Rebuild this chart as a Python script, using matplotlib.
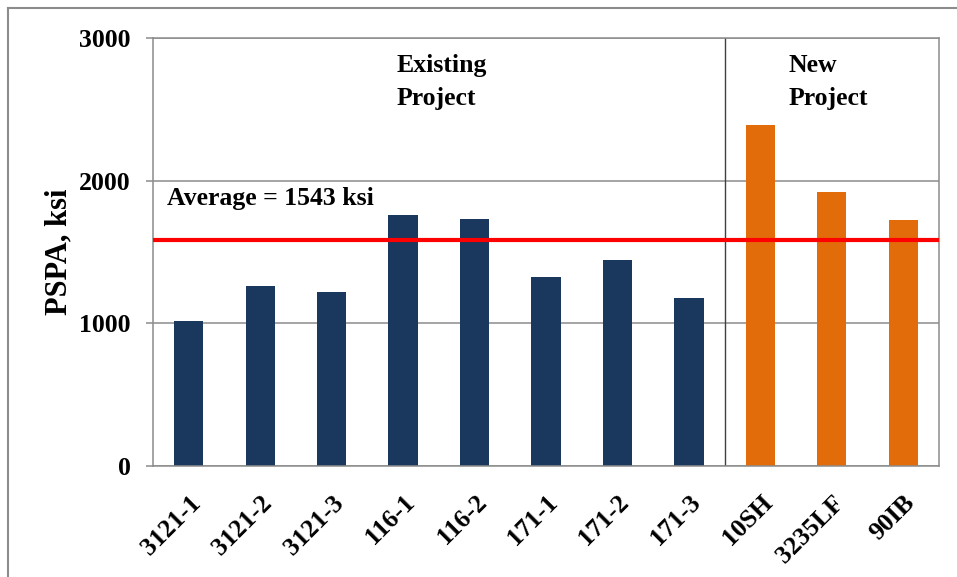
import numpy as np
import matplotlib.pyplot as plt
from matplotlib.lines import Line2D

# section names and bar values (ksi)
existing_names = ['3121-1', '3121-2', '3121-3', '116-1', '116-2', '171-1', '171-2', '171-3']
existing_vals = [1015, 1265, 1217, 1762, 1734, 1322, 1441, 1175]
new_names = ['10SH', '3235LF', '90IB']
new_vals = [2392, 1923, 1727]
avg_line = 1587
avg_label = 'Average = 1543 ksi'

plt.rcParams['font.family'] = ['Liberation Serif', 'DejaVu Serif']
plt.rcParams['font.weight'] = 'bold'

fig = plt.figure(figsize=(9.57, 5.77), dpi=100)
ax = fig.add_axes([153/957, 1-466/577, (939-153)/957, (466-38)/577])

names = existing_names + new_names
x = np.arange(len(names))
xe = x[:len(existing_names)]
xn = x[len(existing_names):]

ax.set_axisbelow(True)
ax.yaxis.grid(True, color='#8c8c8c', linewidth=1.1)
ax.bar(xe, existing_vals, width=0.41, color='#1a375e', zorder=2)
ax.bar(xn, new_vals, width=0.41, color='#e36c0a', zorder=2)
ax.axhline(avg_line, color='#ff0000', linewidth=3, zorder=3)
ax.axvline(len(existing_names) - 0.5, color='#404040', linewidth=1.0, zorder=1)

ax.set_xlim(-0.5, len(names) - 0.5)
ax.set_ylim(0, 3000)
ax.set_yticks([0, 1000, 2000, 3000])
ax.set_xticks(x)
ax.set_xticklabels(names, rotation=45, ha='right', va='top', rotation_mode='anchor',
                   fontsize=18.5, fontweight='bold')
ax.tick_params(axis='x', length=0, pad=18)
ax.tick_params(axis='y', length=5, width=1.1, color='#8c8c8c', pad=11, labelsize=18.5)
for s in ax.spines.values():
    s.set_color('#8c8c8c')
    s.set_linewidth(1.1)

ax.set_ylabel('PSPA, ksi', fontsize=22, fontweight='bold', labelpad=4)

ax.text(2.915, 2890, 'Existing\nProject', fontsize=18.5, fontweight='bold', va='top', ha='left', linespacing=1.55)
ax.text(8.39, 2890, 'New\nProject', fontsize=18.5, fontweight='bold', va='top', ha='left', linespacing=1.55)
ax.text(-0.3, 1878, avg_label, fontsize=18.5, fontweight='bold', va='center', ha='left')

# outer frame (top and left edges only are visible)
fig.add_artist(Line2D([8/957, 1], [1-8/577, 1-8/577], transform=fig.transFigure, color='#8c8c8c', linewidth=1.5))
fig.add_artist(Line2D([8/957, 8/957], [0, 1-8/577], transform=fig.transFigure, color='#8c8c8c', linewidth=1.5))

fig.savefig('out.png', dpi=100)
